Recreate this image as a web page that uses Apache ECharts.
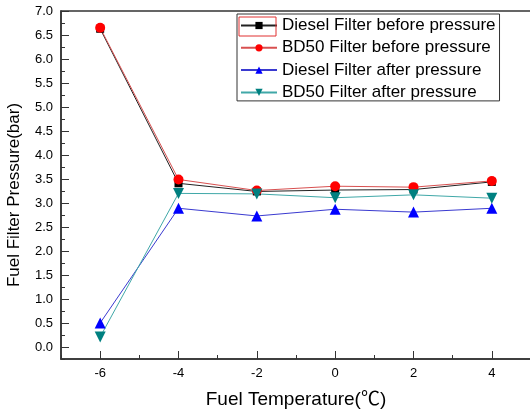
<!DOCTYPE html>
<html>
<head>
<meta charset="utf-8">
<script src="https://cdn.jsdelivr.net/npm/echarts@6/dist/echarts.min.js"></script>
<style>html,body{margin:0;padding:0;background:#fff}#c{width:530px;height:411px}</style>
</head>
<body>
<div id="c"></div>
<script>
var temperatures = [-6, -4, -2, 0, 2, 4];
var dieselBefore = [6.63, 3.41, 3.24, 3.27, 3.28, 3.44];
var bd50Before = [6.65, 3.49, 3.26, 3.35, 3.33, 3.46];
var dieselAfter = [0.50, 2.89, 2.73, 2.87, 2.81, 2.89];
var bd50After = [0.21, 3.20, 3.19, 3.11, 3.17, 3.10];
var seriesNames = ['Diesel Filter before pressure', 'BD50 Filter before pressure', 'Diesel Filter after pressure', 'BD50 Filter after pressure'];

function pairs(arr) { return temperatures.map(function (t, i) { return [t, arr[i]]; }); }

var FONT = '"Liberation Sans", Arial, "Noto Sans CJK KR", sans-serif';
var axisColor = '#333';

var chart = echarts.init(document.getElementById('c'), null, { renderer: 'canvas' });
chart.setOption({
  animation: false,
  backgroundColor: '#fff',
  textStyle: { fontFamily: FONT },
  grid: [
    { left: 61, top: 11, width: 470, height: 348, show: true, borderColor: axisColor, borderWidth: 1.5, outerBoundsMode: 'none', containLabel: false },
    { left: 61 + 470 / 12, top: -1, width: 470, height: 348, show: false, outerBoundsMode: 'none', containLabel: false }
  ],
  legend: {
    orient: 'vertical',
    left: 237, top: 14,
    itemWidth: 36, itemHeight: 9, itemGap: 5.3,
    padding: [3, 4, 0, 3],
    borderColor: axisColor, borderWidth: 1,
    textStyle: { fontSize: 17, lineHeight: 14, fontFamily: FONT, color: '#000' },
    data: seriesNames
  },
  xAxis: [
    { gridIndex: 0, type: 'value', min: -7, max: 5, interval: 1,
      name: 'Fuel Temperature(℃)', nameLocation: 'middle', nameGap: 31,
      nameTextStyle: { fontSize: 19, fontFamily: FONT, color: '#000' },
      axisLine: { show: true, onZero: false, lineStyle: { color: axisColor, width: 1.5 } },
      axisTick: { show: true, inside: true, length: 4, lineStyle: { color: axisColor, width: 1 } },
      axisLabel: { show: false }, splitLine: { show: false } },
    { gridIndex: 1, type: 'value', min: -6, max: 6, interval: 2, offset: 12,
      axisLine: { show: false, onZero: false },
      axisTick: { show: true, inside: true, length: 8, lineStyle: { color: axisColor, width: 1 } },
      axisLabel: { show: true, margin: 8, fontSize: 13, color: '#000', fontFamily: FONT,
        formatter: function (v) { return v > 4.5 ? '' : String(v); } },
      splitLine: { show: false } }
  ],
  yAxis: [
    { gridIndex: 0, type: 'value', min: -0.25, max: 7, interval: 0.25,
      name: 'Fuel Filter Pressure(bar)', nameLocation: 'middle', nameGap: 38,
      nameTextStyle: { fontSize: 17, fontFamily: FONT, color: '#000', padding: [0, 20, 0, 0] },
      axisLine: { show: true, onZero: false, lineStyle: { color: axisColor, width: 1.5 } },
      axisTick: { show: true, inside: true, length: 4, lineStyle: { color: axisColor, width: 1 } },
      axisLabel: { show: false }, splitLine: { show: false } },
    { gridIndex: 1, type: 'value', min: 0, max: 7.25, interval: 0.5, offset: 470 / 12,
      axisLine: { show: false, onZero: false },
      axisTick: { show: true, inside: true, length: 8, lineStyle: { color: axisColor, width: 1 } },
      axisLabel: { show: true, margin: 8, fontSize: 13, color: '#000', fontFamily: FONT,
        formatter: function (v) { return v > 7.1 ? '' : v.toFixed(1); } },
      splitLine: { show: false } }
  ],
  series: [
    { name: seriesNames[0], type: 'line', xAxisIndex: 0, yAxisIndex: 0, data: pairs(dieselBefore),
      symbol: 'rect', symbolSize: 8, itemStyle: { color: '#000' }, lineStyle: { color: '#222', width: 1 } },
    { name: seriesNames[1], type: 'line', xAxisIndex: 0, yAxisIndex: 0, data: pairs(bd50Before),
      symbol: 'circle', symbolSize: 10, itemStyle: { color: '#ff0000' }, lineStyle: { color: '#d85050', width: 1 } },
    { name: seriesNames[2], type: 'line', xAxisIndex: 0, yAxisIndex: 0, data: pairs(dieselAfter),
      symbol: 'triangle', symbolSize: 11, itemStyle: { color: '#0000ff' }, lineStyle: { color: '#3a3ad0', width: 1 } },
    { name: seriesNames[3], type: 'line', xAxisIndex: 0, yAxisIndex: 0, data: pairs(bd50After),
      symbol: 'triangle', symbolRotate: 180, symbolSize: 11, itemStyle: { color: '#008080' }, lineStyle: { color: '#40a8a8', width: 1 } }
  ],
  graphic: [
    { type: 'rect', shape: { x: 239, y: 17, width: 37, height: 19 }, style: { fill: 'none', stroke: '#e03030', lineWidth: 1 }, z: 100 }
  ]
});
</script>
</body>
</html>
